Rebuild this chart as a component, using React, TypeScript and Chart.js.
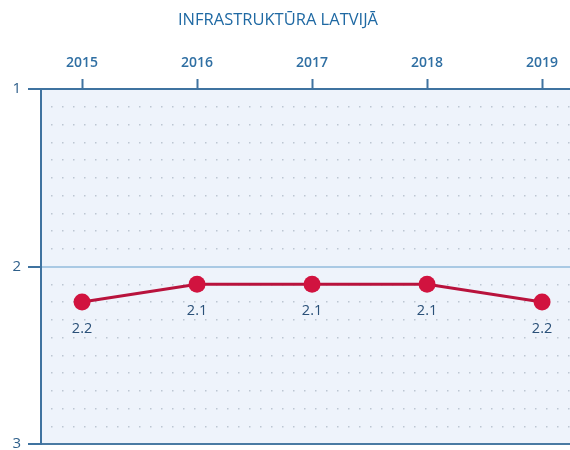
import React, { useEffect, useRef } from "react";
import { Chart, registerables } from "chart.js";

Chart.register(...registerables);

const TITLE = "INFRASTRUKTŪRA LATVIJĀ";
const YEARS = [2015, 2016, 2017, 2018, 2019];
const VALUES = [2.2, 2.1, 2.1, 2.1, 2.2];
const Y_LABEL_TICKS = [1, 2, 3];

const FONT = "'Open Sans', 'DejaVu Sans', sans-serif";
const DARK = "#3f73a0";
const RED = "#d1133f";

const isInt = (v: number) => Math.abs(v - Math.round(v)) < 1e-6;

export default function App() {
  const ref = useRef<HTMLCanvasElement | null>(null);

  useEffect(() => {
    if (!ref.current) return;
    const bgPlugin = {
      id: "bg",
      beforeDraw(chart: any) {
        const { ctx, chartArea: a } = chart;
        ctx.save();
        ctx.fillStyle = "#eef3fb";
        ctx.fillRect(a.left, a.top, a.right - a.left, a.bottom - a.top);
        ctx.restore();
      },
    };
    const labelPlugin = {
      id: "labels",
      afterDatasetsDraw(chart: any) {
        const { ctx } = chart;
        const meta = chart.getDatasetMeta(0);
        ctx.save();
        ctx.fillStyle = "#2a5078";
        ctx.font = `14.5px ${FONT}`;
        ctx.textAlign = "center";
        ctx.textBaseline = "middle";
        meta.data.forEach((pt: any, i: number) => {
          ctx.fillText(VALUES[i].toFixed(1), pt.x, pt.y + 27);
        });
        // title
        ctx.fillStyle = "#1f69a3";
        ctx.font = `16.5px ${FONT}`;
        ctx.fillText(TITLE, 278, 20);
        ctx.restore();
      },
    };

    const chart = new Chart(ref.current, {
      type: "line",
      data: {
        datasets: [
          {
            data: YEARS.map((y, i) => ({ x: y, y: VALUES[i] })),
            borderColor: "#b8123c",
            borderWidth: 3,
            pointRadius: 8.5,
            pointHoverRadius: 8.5,
            pointBackgroundColor: RED,
            pointBorderColor: RED,
            pointBorderWidth: 0,
            tension: 0,
          },
        ],
      },
      options: {
        animation: false,
        responsive: false,
        devicePixelRatio: 1,
        layout: { autoPadding: false, padding: { left: 0, right: 0, top: 0, bottom: 26 } },
        plugins: {
          legend: { display: false },
          title: { display: false },
          tooltip: { enabled: false },
        },
        scales: {
          x: {
            type: "linear",
            position: "top",
            min: 2014.643,
            max: 2019.243,
            afterBuildTicks: (scale: any) => {
              scale.ticks = YEARS.map((v) => ({ value: v }));
            },
            afterFit: (scale: any) => {
              scale.height = 89;
              scale.paddingLeft = 0;
              scale.paddingRight = 0;
            },
            ticks: {
              color: "#2f6fa3",
              font: { family: FONT, size: 14, weight: "600" },
              padding: 8,
              callback: (v: any) => String(v),
              maxRotation: 0,
            },
            grid: {
              drawOnChartArea: false,
              drawTicks: true,
              tickLength: 10,
              tickColor: DARK,
              tickWidth: 2,
            },
            border: { display: true, color: DARK, width: 2 },
          },
          y: {
            type: "linear",
            reverse: true,
            min: 1,
            max: 3,
            afterBuildTicks: (scale: any) => {
              const t: any[] = [];
              for (let i = 0; i <= 20; i++) t.push({ value: 1 + i / 10 });
              scale.ticks = t;
            },
            afterFit: (scale: any) => {
              scale.width = 41;
            },
            ticks: {
              autoSkip: false,
              color: "#2e5f8a",
              font: { family: FONT, size: 15 },
              padding: 7,
              callback: (v: any) => {
                const n = Number(v);
                return Y_LABEL_TICKS.some((t) => Math.abs(t - n) < 1e-6) ? String(Math.round(n)) : "";
              },
            },
            grid: {
              drawOnChartArea: true,
              tickLength: 13,
              tickWidth: 2,
              tickColor: (ctx: any) => (isInt(ctx.tick.value) ? DARK : "rgba(0,0,0,0)"),
              color: (ctx: any) => {
                const v = ctx.tick.value;
                if (Math.abs(v - 1) < 1e-6) return "rgba(0,0,0,0)";
                if (Math.abs(v - 2) < 1e-6) return "#a9c9e4";
                if (Math.abs(v - 3) < 1e-6) return "#4a7aa3";
                return "#bcc6d2";
              },
              lineWidth: (ctx: any) => (isInt(ctx.tick.value) ? 2 : 1.5),
            },
            border: {
              display: true,
              color: DARK,
              width: 2,
              dash: (ctx: any) => (ctx.tick && isInt(ctx.tick.value) ? [] : [1.5, 9.5]),
              dashOffset: -9,
            },
          },
        },
      },
      plugins: [bgPlugin, labelPlugin],
    } as any);
    return () => chart.destroy();
  }, []);

  return (
    <div style={{ position: "fixed", left: 0, top: 0, width: 570, height: 450, overflow: "hidden", background: "#fff" }}>
      <canvas ref={ref} width={570} height={470} style={{ display: "block" }} />
    </div>
  );
}
